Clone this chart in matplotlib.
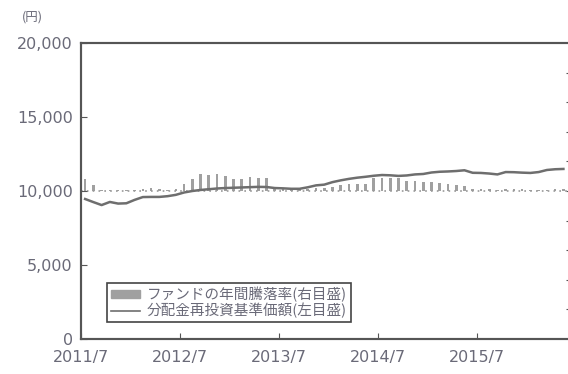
import numpy as np
import matplotlib
matplotlib.use('Agg')
import matplotlib.pyplot as plt
from matplotlib.patches import Patch
from matplotlib.lines import Line2D

# monthly data, 2011/7 .. 2016/5
nav = [9460, 9250, 9050, 9260, 9150, 9170, 9400, 9590, 9600, 9600,
       9650, 9740, 9900, 10000, 10070, 10120, 10170, 10200, 10220, 10240,
       10260, 10280, 10270, 10200, 10180, 10150, 10150, 10250, 10380, 10430,
       10600, 10720, 10820, 10900, 10960, 11030, 11080, 11060, 11020, 11050,
       11120, 11150, 11250, 11300, 11320, 11350, 11400, 11230, 11220, 11180,
       11120, 11280, 11270, 11240, 11220, 11280, 11420, 11470, 11490]
ret = [4.0, 2.0, 0.3, 0.3, 0.3, 0.4, 0.5, 0.8, 1.0, 0.8,
       0.4, 0.6, 2.3, 4.0, 5.6, 5.5, 5.6, 5.0, 4.2, 4.0,
       4.6, 4.4, 4.4, 0.8, 0.6, 0.6, 0.7, 0.8, 1.0, 1.0,
       1.2, 2.0, 2.3, 2.3, 2.4, 4.3, 4.4, 4.4, 4.3, 3.5,
       3.4, 3.2, 3.0, 2.6, 2.3, 2.0, 1.8, 0.8, 0.7, 0.6,
       0.2, 0.6, 0.7, 0.6, 0.2, 0.2, 0.5, 0.6, 0.8]
xticks = [0, 12, 24, 36, 48]
xlabels = ['2011/7', '2012/7', '2013/7', '2014/7', '2015/7']
yticks = [0, 5000, 10000, 15000, 20000]

x = np.arange(len(nav)) + 0.5
txt = '#6a6a78'
spine = '#555555'
jp = ['Noto Sans CJK JP', 'DejaVu Sans']

fig = plt.figure(figsize=(5.68, 3.74), dpi=100)
ax = fig.add_axes([81/568, 35/374, 489/568, 296/374])
ax2 = ax.twinx()

ax2.bar(x, ret, width=0.32, color='#a0a0a0')
ax2.axhline(0, color='#999999', lw=1.2, ls=(0, (1, 2.5)))
ax2.set_ylim(-50, 50)
ax2.set_yticks(np.arange(-40, 50, 10))
ax2.tick_params(axis='y', direction='in', length=3, color=spine, labelright=False)

ax.plot(x, nav, color='#6e6e6e', lw=1.8)
ax.set_zorder(ax2.get_zorder() + 1)
ax.patch.set_visible(False)
ax.set_xlim(0, 59.3)
ax.set_ylim(0, 20000)
ax.set_yticks(yticks)
ax.set_yticklabels(['{:,}'.format(v) for v in yticks])
ax.set_xticks(xticks)
ax.set_xticklabels(xlabels)
ax.tick_params(axis='both', direction='in', length=4, color=spine,
               labelcolor=txt, labelsize=11.5)
ax.tick_params(axis='y', pad=6)
ax.tick_params(axis='x', pad=8)
for a in (ax, ax2):
    for s in a.spines.values():
        s.set_color(spine)
        s.set_linewidth(1.5)

fig.text(22/568, 1 - 17/374, '(円)', fontsize=9, color=txt, va='center', family=jp)

handles = [Patch(color='#a0a0a0'), Line2D([], [], color='#6e6e6e', lw=1.2)]
labels = ['ファンドの年間騰落率(右目盛)', '分配金再投資基準価額(左目盛)']
leg = ax.legend(handles, labels, loc='lower left', bbox_to_anchor=(0.053, 0.057),
                borderaxespad=0, fancybox=False, framealpha=1, edgecolor='#444444',
                prop={'family': jp, 'size': 10.5},
                handlelength=2.0, handleheight=0.45, labelspacing=0.05,
                borderpad=0.25, handletextpad=0.5)
for t in leg.get_texts():
    t.set_color(txt)
leg.get_frame().set_linewidth(1.2)

fig.savefig('out.png', dpi=100)
